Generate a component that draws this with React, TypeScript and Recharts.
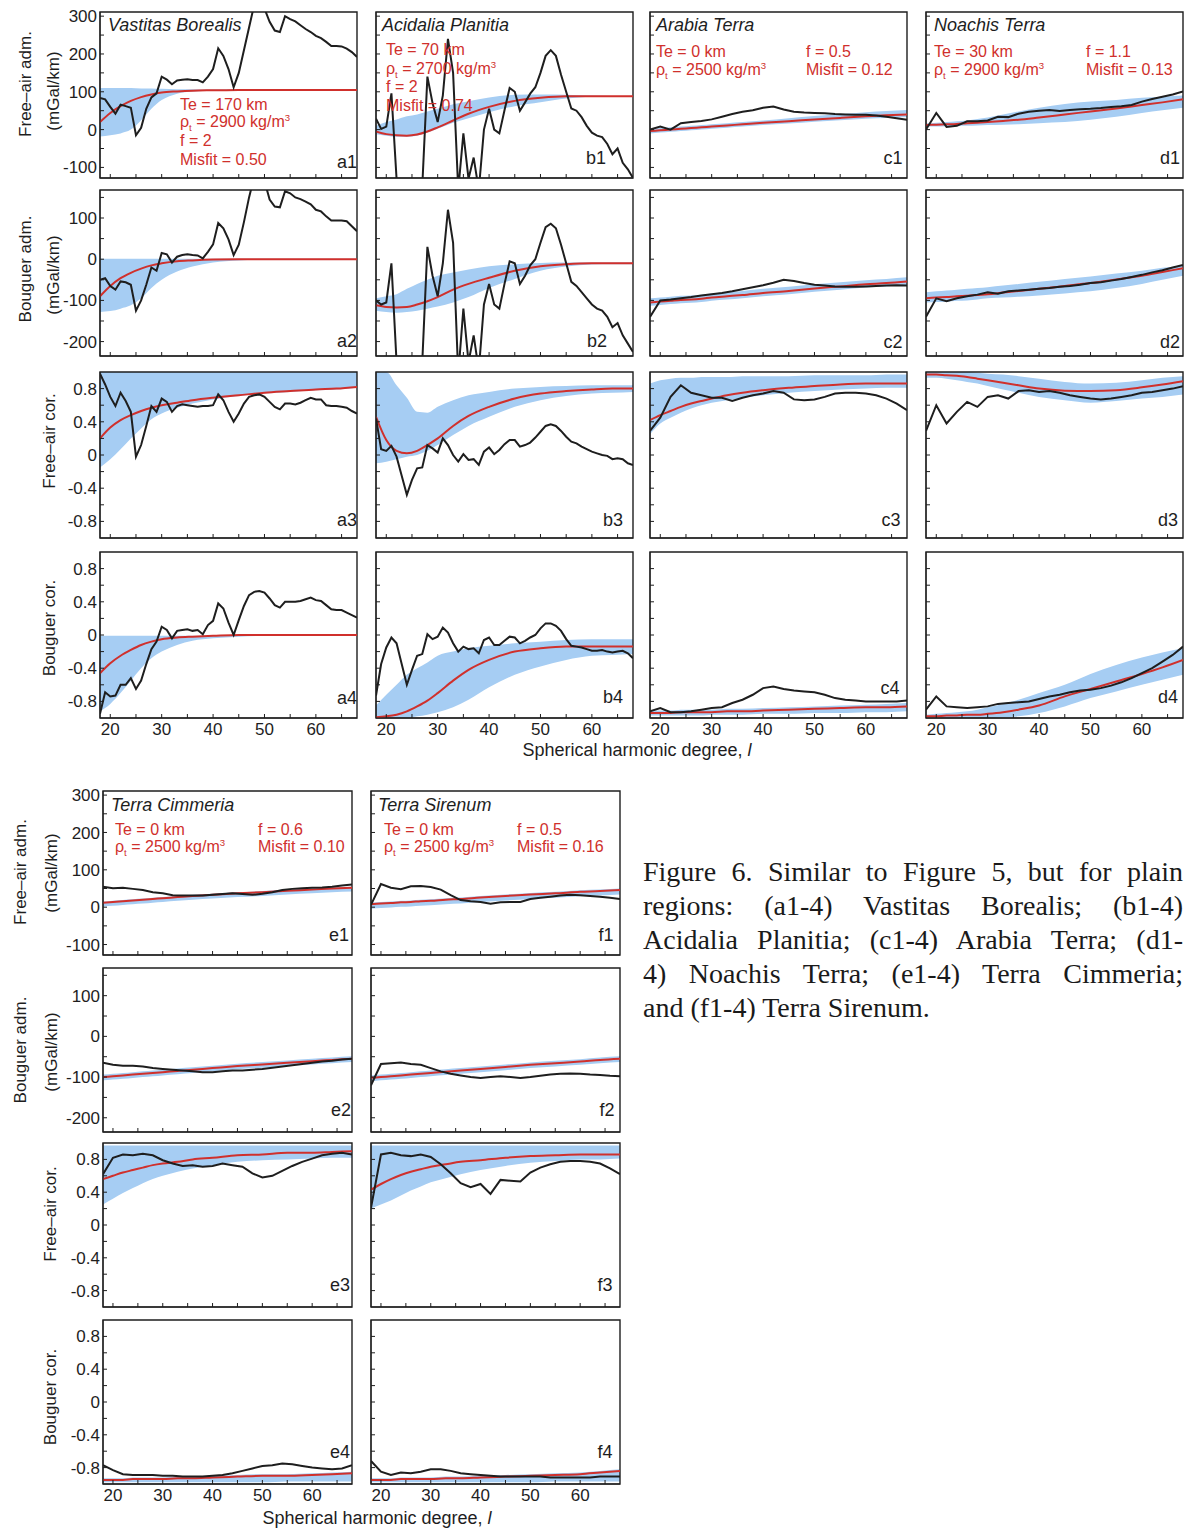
import React from 'react';
import { Area, ComposedChart, Line, ReferenceArea, XAxis, YAxis } from 'recharts';

const SANS = "'Liberation Sans', Arial, Helvetica, sans-serif";
const SERIF = "'Liberation Serif', 'Times New Roman', serif";
const BAND = '#a6cdf3';
const RED = '#d0302c';
const INK = '#1e1e1e';

// spherical harmonic degrees
const degFine = [18, 19, 20, 21, 22, 23, 24, 25, 26, 27, 28, 29, 30, 31, 32, 33, 34, 35, 36, 37, 38, 39, 40, 41, 42, 43,
  44, 45, 46, 47, 48, 49, 50, 51, 52, 53, 54, 55, 56, 57, 58, 59, 60, 61, 62, 63, 64, 65, 66, 67, 68];
const degCoarse = [18, 20, 22, 24, 26, 28, 30, 32, 34, 36, 38, 40, 42, 44, 46, 48, 50, 52, 54, 56, 58, 60, 62, 64, 66, 68];
const fitDeg = [18, 20, 22, 24, 26, 28, 30, 33, 36, 40, 45, 50, 55, 60, 64, 68];
const xTicks = [20, 25, 30, 35, 40, 45, 50, 55, 60, 65];

// observed spectra (black)
const obsA1 = [84, 80, 60, 42, 66, 62, 58, -15, 5, 55, 85, 96, 140, 132, 120, 130, 132, 133, 131, 131, 125, 140, 160, 215, 195, 160,
  112, 150, 210, 270, 330, 340, 320, 285, 262, 258, 300, 292, 286, 276, 266, 258, 248, 242, 232, 221, 221, 220, 214, 205, 192];
const obsA2 = [-50, -46, -65, -74, -54, -56, -62, -125, -100, -62, -20, -28, 15, 12, -8, 6, 10, 12, 10, 9, 2, 18, 36, 88, 75, 48,
  10, 35, 90, 150, 200, 210, 190, 145, 128, 126, 165, 160, 150, 146, 140, 133, 120, 116, 104, 94, 94, 94, 92, 80, 68];
const obsA3 = [0.98, 0.85, 0.7, 0.59, 0.75, 0.65, 0.52, -0.02, 0.12, 0.35, 0.59, 0.52, 0.68, 0.64, 0.52, 0.59, 0.61, 0.6, 0.59, 0.58,
  0.59, 0.59, 0.6, 0.73, 0.66, 0.52, 0.4, 0.5, 0.62, 0.7, 0.72, 0.73, 0.7, 0.64, 0.58, 0.55, 0.62, 0.62, 0.61, 0.63, 0.66, 0.69,
  0.67, 0.67, 0.6, 0.59, 0.59, 0.58, 0.57, 0.53, 0.5];
const obsA4 = [-0.95, -0.69, -0.74, -0.73, -0.6, -0.6, -0.52, -0.65, -0.55, -0.35, -0.17, -0.08, 0.1, 0.06, -0.04, 0.05, 0.06, 0.07,
  0.05, 0.06, 0.01, 0.12, 0.17, 0.38, 0.32, 0.15, 0.0, 0.18, 0.35, 0.48, 0.52, 0.53, 0.51, 0.44, 0.36, 0.33, 0.4, 0.4, 0.4, 0.41,
  0.43, 0.45, 0.42, 0.41, 0.36, 0.31, 0.3, 0.3, 0.27, 0.24, 0.21];
const obsB1 = [29, 2, 8, 96, -130, -400, -400, -350, -300, -150, 140, 70, 20, 90, 240, 150, -160, -10, -130, -74, -160, 0, 55, 0,
  -10, 51, 110, 100, 50, 72, 95, 112, 150, 195, 210, 195, 145, 100, 56, 50, 33, 10, -8, -16, -20, -38, -65, -50, -88, -105, -128];
const obsB2 = [-100, -110, -105, -10, -250, -400, -400, -400, -350, -250, 30, -40, -90, -10, 120, 40, -280, -120, -250, -185, -270,
  -110, -60, -110, -120, -60, -5, -10, -60, -40, -15, 0, 40, 78, 86, 75, 35, -10, -55, -65, -80, -95, -110, -120, -125, -140, -165,
  -155, -185, -205, -225];
const obsB3 = [0.44, 0.07, 0.05, 0.11, -0.02, -0.25, -0.48, -0.3, -0.16, -0.15, 0.12, 0.08, 0.03, 0.2, 0.12, 0.0, -0.08, 0.01, -0.06,
  -0.05, -0.12, 0.04, 0.09, 0.01, 0.06, 0.13, 0.18, 0.18, 0.1, 0.12, 0.15, 0.21, 0.28, 0.35, 0.37, 0.35, 0.29, 0.22, 0.16, 0.14,
  0.1, 0.07, 0.04, 0.02, 0.0, -0.01, -0.05, -0.04, -0.05, -0.1, -0.12];
const obsB4 = [-0.73, -0.35, -0.15, -0.03, -0.1, -0.35, -0.6, -0.42, -0.25, -0.23, 0.01, -0.05, -0.02, 0.09, 0.03, -0.1, -0.2, -0.14,
  -0.17, -0.16, -0.22, -0.06, -0.03, -0.12, -0.12, -0.07, -0.02, -0.03, -0.1, -0.07, -0.03, 0.0, 0.08, 0.14, 0.14, 0.11, 0.05,
  -0.05, -0.13, -0.14, -0.15, -0.17, -0.19, -0.19, -0.18, -0.2, -0.21, -0.2, -0.19, -0.22, -0.28];
const obsC1 = [0, 8, 0, 17, 20, 23, 27, 34, 41, 47, 51, 58, 61, 53, 47, 45, 44, 43, 41, 40, 39, 39, 37, 34, 30, 26];
const obsC2 = [-140, -100, -98, -95, -92, -88, -85, -82, -78, -73, -68, -63, -57, -50, -53, -58, -62, -64, -66, -67, -67, -66, -65, -64, -63, -64];
const obsC3 = [0.29, 0.45, 0.7, 0.84, 0.75, 0.72, 0.69, 0.69, 0.65, 0.69, 0.72, 0.74, 0.77, 0.75, 0.67, 0.66, 0.67, 0.7, 0.74, 0.75, 0.75, 0.74, 0.72, 0.68, 0.62, 0.54];
const obsC4 = [-0.92, -0.88, -0.93, -0.93, -0.92, -0.9, -0.88, -0.87, -0.82, -0.78, -0.72, -0.64, -0.62, -0.65, -0.67, -0.68, -0.69, -0.72, -0.76, -0.78, -0.79, -0.8, -0.8, -0.8, -0.8, -0.79];
const obsD1 = [0, 44, 7, 10, 22, 22, 24, 34, 33, 42, 47, 50, 52, 49, 52, 54, 55, 57, 60, 62, 65, 74, 81, 87, 93, 101];
const obsD2 = [-140, -95, -102, -95, -90, -86, -80, -84, -78, -76, -74, -72, -70, -67, -65, -62, -58, -56, -52, -48, -43, -38, -32, -27, -20, -14];
const obsD3 = [0.29, 0.6, 0.38, 0.52, 0.64, 0.58, 0.7, 0.72, 0.68, 0.77, 0.78, 0.76, 0.77, 0.75, 0.72, 0.7, 0.68, 0.67, 0.68, 0.7, 0.72, 0.75, 0.76, 0.78, 0.8, 0.83];
const obsD4 = [-0.9, -0.74, -0.86, -0.87, -0.88, -0.87, -0.86, -0.83, -0.82, -0.81, -0.8, -0.77, -0.74, -0.72, -0.69, -0.67, -0.66, -0.64, -0.61, -0.57, -0.52, -0.46, -0.4, -0.32, -0.24, -0.14];
const obsE1 = [55, 51, 52, 49, 46, 40, 37, 32, 31, 31, 31, 33, 35, 37, 35, 33, 36, 40, 46, 49, 51, 52, 53, 55, 58, 61];
const obsE2 = [-65, -70, -72, -72, -74, -78, -80, -82, -84, -86, -88, -88, -86, -84, -84, -82, -80, -77, -74, -71, -68, -65, -62, -60, -57, -55];
const obsE3 = [0.62, 0.82, 0.86, 0.85, 0.87, 0.85, 0.79, 0.75, 0.72, 0.73, 0.71, 0.72, 0.75, 0.73, 0.71, 0.63, 0.58, 0.6, 0.66, 0.72, 0.77, 0.81, 0.85, 0.87, 0.88, 0.86];
const obsE4 = [-0.77, -0.83, -0.88, -0.89, -0.89, -0.89, -0.9, -0.9, -0.91, -0.91, -0.91, -0.9, -0.89, -0.87, -0.84, -0.81, -0.78, -0.77, -0.75, -0.76, -0.78, -0.8, -0.81, -0.82, -0.81, -0.77];
const obsF1 = [6, 62, 52, 48, 56, 57, 54, 47, 32, 19, 16, 14, 9, 13, 14, 14, 22, 25, 28, 31, 33, 32, 30, 28, 25, 22];
const obsF2 = [-120, -68, -66, -64, -68, -70, -78, -86, -92, -96, -100, -102, -100, -98, -100, -102, -100, -97, -94, -92, -91, -92, -94, -95, -97, -98];
const obsF3 = [0.21, 0.86, 0.88, 0.85, 0.84, 0.86, 0.83, 0.74, 0.63, 0.51, 0.46, 0.5, 0.38, 0.55, 0.54, 0.53, 0.64, 0.7, 0.74, 0.77, 0.78, 0.78, 0.77, 0.75, 0.69, 0.62];
const obsF4 = [-0.72, -0.85, -0.89, -0.86, -0.87, -0.85, -0.82, -0.82, -0.84, -0.87, -0.88, -0.89, -0.9, -0.91, -0.91, -0.91, -0.91, -0.91, -0.92, -0.92, -0.92, -0.92, -0.92, -0.91, -0.91, -0.91];

// best-fit model (red) and its spread (blue), at fitDeg
const fitA1 = [20, 44, 62, 76, 86, 93, 98, 101, 103, 104, 105, 105, 105, 105, 105, 105];
const loA1 = [-18, -15, -10, 0, 25, 55, 78, 95, 101, 103, 104, 104, 104, 104, 104, 104];
const hiA1 = [110, 110, 110, 110, 109, 109, 108, 107, 107, 106, 106, 106, 106, 106, 106, 106];
const fitA2 = [-90, -65, -46, -33, -23, -15, -10, -5, -3, -1, 0, 0, 0, 0, 0, 0];
const loA2 = [-128, -126, -120, -112, -95, -70, -50, -30, -18, -8, -3, -1, -1, -1, -1, -1];
const hiA2 = [1, 1, 1, 1, 1, 1, 1, 1, 1, 1, 1, 1, 1, 1, 1, 1];
const fitA3 = [0.2, 0.33, 0.42, 0.48, 0.53, 0.57, 0.6, 0.63, 0.66, 0.69, 0.72, 0.75, 0.77, 0.79, 0.8, 0.82];
const loA3 = [-0.15, -0.05, 0.07, 0.2, 0.32, 0.43, 0.5, 0.57, 0.62, 0.67, 0.71, 0.74, 0.76, 0.78, 0.79, 0.81];
const hiA3 = [1, 1, 1, 1, 1, 1, 1, 1, 1, 1, 1, 1, 1, 1, 1, 1];
const fitA4 = [-0.46, -0.34, -0.25, -0.18, -0.12, -0.08, -0.05, -0.03, -0.02, -0.01, 0, 0, 0, 0, 0, 0];
const loA4 = [-0.92, -0.83, -0.7, -0.55, -0.4, -0.28, -0.2, -0.12, -0.07, -0.04, -0.02, -0.01, -0.01, -0.01, -0.01, -0.01];
const hiA4 = [-0.01, -0.01, -0.01, -0.01, -0.01, -0.01, -0.01, -0.01, -0.01, -0.01, -0.01, -0.01, -0.01, -0.01, -0.01, -0.01];
const fitB1 = [-5, -12, -15, -16, -13, -5, 6, 24, 42, 60, 76, 84, 88, 88, 88, 88];
const loB1 = [-12, -16, -19, -19, -16, -8, 2, 18, 30, 46, 62, 72, 82, 86, 86, 86];
const hiB1 = [10, 20, 27, 35, 40, 48, 55, 67, 75, 85, 92, 93, 92, 90, 89, 89];
const fitB2 = [-112, -116, -117, -116, -110, -102, -92, -74, -60, -45, -28, -17, -12, -10, -10, -10];
const loB2 = [-125, -128, -130, -128, -125, -120, -115, -105, -92, -70, -48, -28, -18, -13, -12, -12];
const hiB2 = [-95, -90, -85, -72, -60, -50, -40, -32, -25, -17, -12, -9, -8, -8, -8, -8];
const fitB3 = [0.46, 0.18, 0.05, 0.02, 0.05, 0.12, 0.2, 0.35, 0.47, 0.58, 0.68, 0.74, 0.77, 0.79, 0.8, 0.8];
const loB3 = [-0.1, -0.08, -0.05, -0.02, 0.0, 0.05, 0.12, 0.24, 0.35, 0.46, 0.58, 0.66, 0.71, 0.74, 0.75, 0.76];
const hiB3 = [1.0, 1.0, 0.84, 0.69, 0.52, 0.51, 0.58, 0.66, 0.72, 0.76, 0.8, 0.82, 0.83, 0.84, 0.84, 0.84];
const fitB4 = [-0.99, -0.98, -0.96, -0.92, -0.86, -0.79, -0.7, -0.55, -0.42, -0.3, -0.2, -0.16, -0.14, -0.14, -0.14, -0.14];
const loB4 = [-1.0, -1.0, -1.0, -1.0, -0.98, -0.96, -0.93, -0.87, -0.78, -0.63, -0.48, -0.38, -0.3, -0.25, -0.24, -0.23];
const hiB4 = [-0.85, -0.72, -0.6, -0.48, -0.4, -0.33, -0.25, -0.2, -0.16, -0.13, -0.1, -0.08, -0.06, -0.05, -0.05, -0.05];
const fitC1 = [-4, -2, 0, 2, 4, 6, 8, 11, 14, 18, 22, 27, 31, 35, 38, 40];
const loC1 = [-10, -8, -6, -4, -2, 0, 2, 5, 8, 12, 16, 21, 25, 29, 31, 33];
const hiC1 = [2, 4, 6, 8, 10, 12, 14, 17, 20, 24, 30, 36, 41, 46, 49, 52];
const fitC2 = [-105, -103, -101, -99, -98, -96, -93, -90, -87, -82, -77, -71, -66, -61, -58, -54];
const loC2 = [-113, -111, -109, -107, -106, -104, -101, -98, -95, -90, -85, -79, -74, -69, -66, -62];
const hiC2 = [-95, -93, -91, -89, -88, -86, -83, -80, -77, -72, -67, -61, -56, -51, -48, -44];
const fitC3 = [0.42, 0.48, 0.53, 0.58, 0.62, 0.65, 0.68, 0.72, 0.75, 0.78, 0.81, 0.83, 0.85, 0.86, 0.86, 0.86];
const loC3 = [0.25, 0.38, 0.45, 0.51, 0.56, 0.6, 0.63, 0.66, 0.69, 0.72, 0.75, 0.77, 0.79, 0.8, 0.81, 0.81];
const hiC3 = [0.86, 0.9, 0.92, 0.93, 0.93, 0.94, 0.94, 0.94, 0.95, 0.95, 0.95, 0.96, 0.96, 0.96, 0.97, 0.97];
const fitC4 = [-0.94, -0.94, -0.94, -0.93, -0.93, -0.93, -0.93, -0.92, -0.92, -0.91, -0.9, -0.89, -0.88, -0.87, -0.87, -0.86];
const loC4 = [-0.97, -0.97, -0.97, -0.97, -0.97, -0.97, -0.96, -0.96, -0.96, -0.95, -0.95, -0.94, -0.94, -0.93, -0.93, -0.92];
const hiC4 = [-0.91, -0.91, -0.91, -0.9, -0.9, -0.9, -0.9, -0.89, -0.89, -0.88, -0.87, -0.86, -0.85, -0.84, -0.83, -0.82];
const fitD1 = [12, 13, 14, 15, 17, 18, 20, 23, 26, 32, 40, 48, 56, 65, 72, 80];
const loD1 = [8, 8, 9, 10, 10, 11, 12, 13, 14, 17, 20, 26, 34, 44, 51, 58];
const hiD1 = [16, 18, 20, 22, 24, 28, 32, 40, 48, 58, 68, 74, 78, 84, 87, 90];
const fitD2 = [-95, -93, -92, -90, -89, -87, -85, -81, -77, -72, -65, -58, -49, -40, -31, -22];
const loD2 = [-105, -104, -103, -101, -100, -98, -95, -93, -91, -88, -83, -78, -70, -60, -50, -40];
const hiD2 = [-80, -78, -76, -74, -72, -70, -68, -64, -60, -55, -48, -42, -35, -28, -21, -15];
const fitD3 = [0.97, 0.97, 0.96, 0.955, 0.94, 0.92, 0.9, 0.87, 0.84, 0.8, 0.775, 0.77, 0.78, 0.815, 0.85, 0.89];
const loD3 = [0.93, 0.93, 0.92, 0.9, 0.88, 0.86, 0.83, 0.79, 0.75, 0.7, 0.66, 0.63, 0.65, 0.68, 0.7, 0.73];
const hiD3 = [1, 1, 1, 1, 1, 0.99, 0.98, 0.97, 0.95, 0.92, 0.88, 0.86, 0.87, 0.9, 0.93, 0.95];
const fitD4 = [-0.98, -0.98, -0.97, -0.97, -0.96, -0.96, -0.95, -0.93, -0.9, -0.85, -0.74, -0.65, -0.56, -0.47, -0.39, -0.3];
const loD4 = [-1, -1, -1, -1, -1, -1, -1, -0.99, -0.98, -0.94, -0.86, -0.76, -0.68, -0.6, -0.54, -0.48];
const hiD4 = [-0.96, -0.95, -0.94, -0.93, -0.92, -0.9, -0.87, -0.83, -0.78, -0.7, -0.6, -0.47, -0.36, -0.27, -0.21, -0.16];
const fitE1 = [12, 14, 16, 18, 20, 22, 24, 27, 30, 33, 37, 40, 44, 47, 50, 52];
const loE1 = [2, 4, 6, 8, 10, 12, 14, 17, 20, 23, 27, 30, 34, 37, 40, 42];
const hiE1 = [15, 17, 19, 21, 23, 25, 27, 30, 33, 36, 40, 43, 47, 50, 53, 55];
const fitE2 = [-100, -98, -96, -94, -92, -90, -88, -85, -82, -78, -73, -69, -65, -61, -58, -55];
const loE2 = [-108, -106, -104, -102, -100, -98, -96, -93, -90, -86, -81, -77, -73, -69, -66, -63];
const hiE2 = [-94, -92, -90, -88, -86, -84, -82, -79, -76, -72, -67, -63, -59, -55, -52, -49];
const fitE3 = [0.56, 0.6, 0.64, 0.67, 0.7, 0.73, 0.75, 0.77, 0.8, 0.82, 0.85, 0.86, 0.88, 0.88, 0.89, 0.9];
const loE3 = [0.25, 0.32, 0.39, 0.45, 0.51, 0.56, 0.6, 0.65, 0.69, 0.73, 0.77, 0.79, 0.8, 0.81, 0.82, 0.82];
const hiE3 = [0.97, 0.97, 0.97, 0.97, 0.97, 0.97, 0.97, 0.97, 0.97, 0.97, 0.97, 0.97, 0.97, 0.97, 0.97, 0.97];
const fitE4 = [-0.95, -0.95, -0.95, -0.94, -0.94, -0.94, -0.94, -0.93, -0.93, -0.92, -0.91, -0.9, -0.9, -0.89, -0.88, -0.87];
const loE4 = [-0.98, -0.98, -0.98, -0.98, -0.98, -0.98, -0.98, -0.98, -0.98, -0.98, -0.98, -0.98, -0.97, -0.97, -0.97, -0.97];
const hiE4 = [-0.93, -0.93, -0.93, -0.92, -0.92, -0.92, -0.92, -0.91, -0.91, -0.9, -0.89, -0.88, -0.88, -0.87, -0.86, -0.85];
const fitF1 = [8, 10, 11, 13, 14, 16, 17, 20, 22, 26, 30, 34, 37, 41, 43, 46];
const loF1 = [-4, -2, -1, 1, 2, 4, 5, 8, 10, 14, 18, 22, 25, 29, 31, 34];
const hiF1 = [12, 14, 15, 17, 18, 20, 21, 24, 26, 30, 34, 38, 41, 45, 47, 50];
const fitF2 = [-102, -100, -98, -96, -94, -92, -90, -87, -84, -80, -75, -70, -66, -62, -58, -55];
const loF2 = [-110, -108, -106, -104, -102, -100, -98, -95, -92, -88, -83, -78, -74, -70, -66, -63];
const hiF2 = [-96, -94, -92, -90, -88, -86, -84, -81, -78, -74, -69, -64, -60, -56, -52, -49];
const fitF3 = [0.43, 0.5, 0.56, 0.61, 0.65, 0.68, 0.71, 0.74, 0.77, 0.79, 0.82, 0.84, 0.85, 0.86, 0.86, 0.86];
const loF3 = [0.2, 0.25, 0.3, 0.36, 0.42, 0.47, 0.52, 0.57, 0.62, 0.67, 0.72, 0.76, 0.78, 0.8, 0.8, 0.81];
const hiF3 = [0.97, 0.97, 0.97, 0.97, 0.97, 0.97, 0.97, 0.97, 0.97, 0.97, 0.97, 0.97, 0.97, 0.97, 0.97, 0.97];
const fitF4 = [-0.95, -0.95, -0.95, -0.94, -0.94, -0.94, -0.94, -0.93, -0.93, -0.92, -0.91, -0.9, -0.89, -0.88, -0.86, -0.84];
const loF4 = [-0.98, -0.98, -0.98, -0.98, -0.98, -0.98, -0.98, -0.98, -0.98, -0.98, -0.98, -0.98, -0.97, -0.97, -0.97, -0.97];
const hiF4 = [-0.93, -0.93, -0.93, -0.92, -0.92, -0.92, -0.92, -0.91, -0.91, -0.9, -0.89, -0.88, -0.87, -0.86, -0.84, -0.82];

const captionLines = [
  'Figure 6. Similar to Figure 5, but for plain',
  'regions: (a1-4) Vastitas Borealis; (b1-4)',
  'Acidalia Planitia; (c1-4) Arabia Terra; (d1-',
  '4) Noachis Terra; (e1-4) Terra Cimmeria;',
  'and (f1-4) Terra Sirenum.',
];

type Kind = 'fadm' | 'badm' | 'cor';

const yAxes: Record<Kind, { domain: [number, number]; ticks: number[]; step: number }> = {
  fadm: { domain: [-128, 311], ticks: [-100, -50, 0, 50, 100, 150, 200, 250, 300], step: 100 },
  badm: { domain: [-235, 168], ticks: [-200, -150, -100, -50, 0, 50, 100, 150], step: 100 },
  cor: { domain: [-1, 1], ticks: [-0.8, -0.6, -0.4, -0.2, 0, 0.2, 0.4, 0.6, 0.8], step: 0.4 },
};

interface PanelDef {
  id: string;
  left: number;
  top: number;
  width: number;
  height: number;
  kind: Kind;
  deg: number[];
  obs: number[];
  fit: number[];
  lo: number[];
  hi: number[];
  yLabels: boolean;
  xLabels: boolean;
  tag: [number, number];
}

const Panel: React.FC<{ p: PanelDef }> = ({ p }) => {
  const padL = p.yLabels ? 44 : 3;
  const padB = p.xLabels ? 28 : 3;
  const padT = p.yLabels ? 10 : 3;
  const ax = yAxes[p.kind];
  const obsData = p.deg.map((deg, i) => ({ deg, value: p.obs[i] }));
  const fitData = fitDeg.map((deg, i) => ({ deg, value: p.fit[i], band: [p.lo[i], p.hi[i]] }));
  const isMajor = (v: number) => Math.abs(v / ax.step - Math.round(v / ax.step)) < 1e-6;
  const tickStyle = { fill: INK, fontSize: 17, fontFamily: SANS };
  return (
    <div style={{ position: 'absolute', left: p.left - padL, top: p.top - padT }}>
      <ComposedChart
        width={p.width + padL + 3}
        height={p.height + padT + padB}
        margin={{ top: padT, right: 3, bottom: 0, left: 0 }}
      >
        <XAxis
          type="number"
          dataKey="deg"
          domain={[18, 68]}
          allowDataOverflow
          ticks={xTicks}
          interval={0}
          height={padB}
          tickSize={-4}
          tickMargin={9}
          stroke={INK}
          tick={tickStyle}
          tickFormatter={(v: number) => (p.xLabels && v % 10 === 0 ? String(v) : '')}
        />
        <YAxis
          type="number"
          domain={ax.domain}
          allowDataOverflow
          ticks={ax.ticks}
          interval={0}
          width={padL}
          tickSize={-4}
          tickMargin={7}
          stroke={INK}
          tick={tickStyle}
          tickFormatter={(v: number) => (p.yLabels && isMajor(v) ? String(Math.round(v * 10) / 10) : '')}
        />
        <Area data={fitData} dataKey="band" type="monotone" stroke="none" fill={BAND} fillOpacity={1} isAnimationActive={false} />
        <Line data={fitData} dataKey="value" type="monotone" stroke={RED} strokeWidth={2} dot={false} isAnimationActive={false} />
        <Line data={obsData} dataKey="value" type="linear" stroke={INK} strokeWidth={2} dot={false} isAnimationActive={false} />
        <ReferenceArea x1={18} x2={68} y1={ax.domain[0]} y2={ax.domain[1]} fill="none" stroke={INK} strokeWidth={1.4} ifOverflow="visible" />
      </ComposedChart>
    </div>
  );
};

const topCols = [100, 376, 650, 926];
const topRows = [12, 190, 372, 552];
const botCols = [103, 371];
const botRows = [791, 968, 1143, 1320];
const kinds: Kind[] = ['fadm', 'badm', 'cor', 'cor'];

const topSets = [
  [[obsA1, fitA1, loA1, hiA1], [obsA2, fitA2, loA2, hiA2], [obsA3, fitA3, loA3, hiA3], [obsA4, fitA4, loA4, hiA4]],
  [[obsB1, fitB1, loB1, hiB1], [obsB2, fitB2, loB2, hiB2], [obsB3, fitB3, loB3, hiB3], [obsB4, fitB4, loB4, hiB4]],
  [[obsC1, fitC1, loC1, hiC1], [obsC2, fitC2, loC2, hiC2], [obsC3, fitC3, loC3, hiC3], [obsC4, fitC4, loC4, hiC4]],
  [[obsD1, fitD1, loD1, hiD1], [obsD2, fitD2, loD2, hiD2], [obsD3, fitD3, loD3, hiD3], [obsD4, fitD4, loD4, hiD4]],
];
const botSets = [
  [[obsE1, fitE1, loE1, hiE1], [obsE2, fitE2, loE2, hiE2], [obsE3, fitE3, loE3, hiE3], [obsE4, fitE4, loE4, hiE4]],
  [[obsF1, fitF1, loF1, hiF1], [obsF2, fitF2, loF2, hiF2], [obsF3, fitF3, loF3, hiF3], [obsF4, fitF4, loF4, hiF4]],
];
const topTags: [number, number][][] = [
  [[347, 162], [347, 341], [347, 520], [347, 698]],
  [[596, 158], [597, 341], [613, 520], [613, 697]],
  [[893, 158], [893, 342], [891, 520], [890, 688]],
  [[1170, 158], [1170, 342], [1168, 520], [1168, 697]],
];
const botTags: [number, number][][] = [
  [[339, 935], [341, 1110], [340, 1285], [340, 1452]],
  [[606, 935], [607, 1110], [605, 1285], [605, 1452]],
];

const panels: PanelDef[] = [];
topSets.forEach((col, c) =>
  col.forEach((s, r) =>
    panels.push({
      id: 'abcd'[c] + (r + 1),
      left: topCols[c], top: topRows[r], width: 257, height: 166, kind: kinds[r],
      deg: c < 2 ? degFine : degCoarse, obs: s[0], fit: s[1], lo: s[2], hi: s[3],
      yLabels: c === 0, xLabels: r === 3, tag: topTags[c][r],
    })
  )
);
botSets.forEach((col, c) =>
  col.forEach((s, r) =>
    panels.push({
      id: 'ef'[c] + (r + 1),
      left: botCols[c], top: botRows[r], width: 249, height: 164, kind: kinds[r],
      deg: degCoarse, obs: s[0], fit: s[1], lo: s[2], hi: s[3],
      yLabels: c === 0, xLabels: r === 3, tag: botTags[c][r],
    })
  )
);

const Txt: React.FC<{ x: number; y: number; size?: number; color?: string; italic?: boolean; center?: boolean; children: React.ReactNode }> = ({
  x, y, size = 16, color = RED, italic = false, center = false, children,
}) => (
  <div
    style={{
      position: 'absolute', left: x, top: y, transform: center ? 'translate(-50%, -50%)' : 'translateY(-50%)',
      fontFamily: SANS, fontSize: size, color, fontStyle: italic ? 'italic' : 'normal', whiteSpace: 'nowrap', lineHeight: 1,
    }}
  >
    {children}
  </div>
);

const VTitle: React.FC<{ x: number; y: number; text: string }> = ({ x, y, text }) => (
  <div
    style={{
      position: 'absolute', left: x, top: y, transform: 'translate(-50%, -50%) rotate(-90deg)',
      fontFamily: SANS, fontSize: 17, color: INK, whiteSpace: 'nowrap', lineHeight: 1,
    }}
  >
    {text}
  </div>
);

const Rho: React.FC<{ v: string }> = ({ v }) => (
  <span>
    ρ<sub style={{ fontSize: '0.6em', lineHeight: 0 }}>t</sub> = {v} kg/m<sup style={{ fontSize: '0.6em', lineHeight: 0 }}>3</sup>
  </span>
);

const Degree: React.FC = () => (
  <span>
    Spherical harmonic degree, <i>l</i>
  </span>
);

export default function App() {
  return (
    <div style={{ position: 'absolute', left: 0, top: 0, width: 1188, height: 1537, background: '#fff', overflow: 'hidden' }}>
      {panels.map((p) => (
        <Panel key={p.id} p={p} />
      ))}
      {panels.map((p) => (
        <Txt key={'t' + p.id} x={p.tag[0]} y={p.tag[1]} size={18} color={INK} center>
          {p.id}
        </Txt>
      ))}

      {/* axis titles */}
      <VTitle x={25} y={84} text="Free–air adm." />
      <VTitle x={53} y={91} text="(mGal/km)" />
      <VTitle x={25} y={269} text="Bouguer adm." />
      <VTitle x={53} y={275} text="(mGal/km)" />
      <VTitle x={49} y={441} text="Free–air cor." />
      <VTitle x={49} y={628} text="Bouguer cor." />
      <VTitle x={20} y={872} text="Free–air adm." />
      <VTitle x={51} y={873} text="(mGal/km)" />
      <VTitle x={20} y={1050} text="Bouguer adm." />
      <VTitle x={51} y={1052} text="(mGal/km)" />
      <VTitle x={50} y={1214} text="Free–air cor." />
      <VTitle x={50} y={1397} text="Bouguer cor." />
      <Txt x={637} y={750} size={18} color={INK} center><Degree /></Txt>
      <Txt x={377} y={1518} size={18} color={INK} center><Degree /></Txt>

      {/* region names and fit parameters */}
      <Txt x={108} y={25} size={18} color={INK} italic>Vastitas Borealis</Txt>
      <Txt x={180} y={105}>Te = 170 km</Txt>
      <Txt x={180} y={122}><Rho v="2900" /></Txt>
      <Txt x={180} y={141}>f = 2</Txt>
      <Txt x={180} y={160}>Misfit = 0.50</Txt>

      <Txt x={382} y={25} size={18} color={INK} italic>Acidalia Planitia</Txt>
      <Txt x={386} y={50}>Te = 70 km</Txt>
      <Txt x={386} y={69}><Rho v="2700" /></Txt>
      <Txt x={386} y={87}>f = 2</Txt>
      <Txt x={386} y={106}>Misfit = 0.74</Txt>

      <Txt x={656} y={25} size={18} color={INK} italic>Arabia Terra</Txt>
      <Txt x={656} y={52}>Te = 0 km</Txt>
      <Txt x={656} y={70}><Rho v="2500" /></Txt>
      <Txt x={806} y={52}>f = 0.5</Txt>
      <Txt x={806} y={70}>Misfit = 0.12</Txt>

      <Txt x={934} y={25} size={18} color={INK} italic>Noachis Terra</Txt>
      <Txt x={934} y={52}>Te = 30 km</Txt>
      <Txt x={934} y={70}><Rho v="2900" /></Txt>
      <Txt x={1086} y={52}>f = 1.1</Txt>
      <Txt x={1086} y={70}>Misfit = 0.13</Txt>

      <Txt x={111} y={805} size={18} color={INK} italic>Terra Cimmeria</Txt>
      <Txt x={115} y={830}>Te = 0 km</Txt>
      <Txt x={115} y={847}><Rho v="2500" /></Txt>
      <Txt x={258} y={830}>f = 0.6</Txt>
      <Txt x={258} y={847}>Misfit = 0.10</Txt>

      <Txt x={378} y={805} size={18} color={INK} italic>Terra Sirenum</Txt>
      <Txt x={384} y={830}>Te = 0 km</Txt>
      <Txt x={384} y={847}><Rho v="2500" /></Txt>
      <Txt x={517} y={830}>f = 0.5</Txt>
      <Txt x={517} y={847}>Misfit = 0.16</Txt>

      {/* caption */}
      <div style={{ position: 'absolute', left: 643, top: 855, width: 540, fontFamily: SERIF, fontSize: 28, lineHeight: '34px', color: '#1a1a1a' }}>
        {captionLines.map((t, i) => {
          const last = i === captionLines.length - 1;
          return (
            <div key={i} style={{ textAlign: last ? 'left' : 'justify', textAlignLast: last ? 'left' : 'justify', whiteSpace: 'nowrap' }}>
              {t}
            </div>
          );
        })}
      </div>
    </div>
  );
}
